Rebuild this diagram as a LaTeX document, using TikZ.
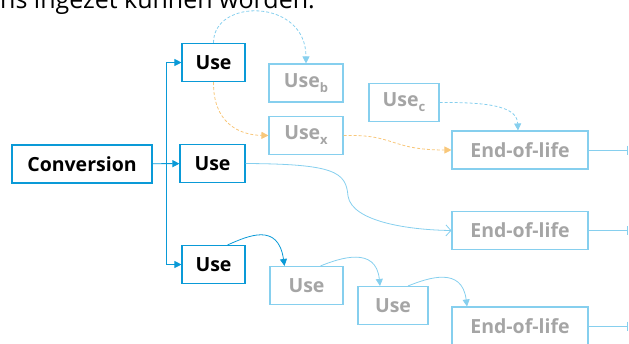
\documentclass[tikz,border=0pt]{standalone}
\usepackage{fontspec}
\setmainfont{Open Sans}
\usetikzlibrary{positioning,arrows.meta,calc}

\definecolor{lcblue}{HTML}{0A9AD7}
\definecolor{lcpale}{HTML}{86CFEE}
\definecolor{lcorange}{HTML}{F8C77A}
\definecolor{lcgrey}{HTML}{A5A5A5}

\newcommand{\lcsub}[1]{\raisebox{-5pt}{\fontsize{13}{14}\selectfont #1}}

\tikzset{
	every node/.style={font=\bfseries\fontsize{19.5}{22}\selectfont, inner sep=0pt},
	stagebox/.style={draw=lcblue, line width=1.1pt, text=black, minimum height=38pt},
	paledbox/.style={draw=lcpale, line width=1.1pt, text=lcgrey, minimum height=38pt},
	tip/.style={-{Triangle[length=7pt,width=7pt]}},
	busline/.style={draw=lcblue, line width=0.9pt},
	paleline/.style={draw=lcpale, line width=0.8pt},
	paledash/.style={paleline, dashed, dash pattern=on 3pt off 2pt},
	orangedash/.style={draw=lcorange, line width=0.8pt, dash pattern=on 3pt off 2pt},
	stub/.style={paleline, -{Bar[width=9pt,line width=1.2pt]}}
}

\begin{document}
\begin{tikzpicture}[x=1pt, y=-1pt]
	\useasboundingbox (0,0) rectangle (629,343);

	% cut-off line of the page above
	\node[anchor=base west, font=\fontsize{25}{28}\selectfont] (caption) at (0,8) {ns ingezet kunnen worden.};

	% main chain
	\node[stagebox, minimum width=140pt] (conv) at (82,164) {Conversion};
	\node[stagebox, minimum width=63pt] (use1) at (213.5,62.5) {Use};
	\node[stagebox, minimum width=65pt] (use2) at (212.5,163.5) {Use};
	\node[stagebox, minimum width=63pt] (use3) at (213.5,264.5) {Use};

	% pale stages
	\node[paledbox, minimum width=74pt] (useb) at (306,83) {Use\lcsub{b}};
	\node[paledbox, minimum width=74pt] (usex) at (306,135.5) {Use\lcsub{x}};
	\node[paledbox, minimum width=70pt] (usec) at (404,102.5) {Use\lcsub{c}};
	\node[paledbox, minimum width=73pt] (use4) at (306.5,285.5) {Use};
	\node[paledbox, minimum width=70pt] (use5) at (393,305.5) {Use};
	\node[paledbox, minimum width=136pt] (eol1) at (520,150) {End-of-life};
	\node[paledbox, minimum width=136pt] (eol2) at (520,230.5) {End-of-life};
	\node[paledbox, minimum width=136pt] (eol3) at (520,326) {End-of-life};

	% split after conversion
	\coordinate (split) at (166,164);
	\draw[busline, tip] (conv) -- (use2);
	\draw[busline, tip] (split) |- (use1);
	\draw[busline, tip] (split) |- (use3);

	% reuse loops
	\draw[paledash, tip] (use1.north) .. controls (213,-2) and (306,-2) .. (useb.north);
	\draw[orangedash, tip] (use1.south) .. controls (213,122) and (238,135) .. (usex.west);
	\draw[orangedash, tip] (usex.east) .. controls (395,134) and (390,150) .. (eol1.west);
	\draw[paledash, tip] (usec.east) .. controls (495,102) and (517,108) .. ($(eol1.north)+(-2,0)$);

	% long path to end-of-life
	\draw[paleline, -{Straight Barb[length=5pt,width=11pt]}] (use2.east) .. controls (335,164) and (346,172) .. (348,196)
		.. controls (352,222) and (410,230) .. (eol2.west);

	% cascade
	\draw[busline, line width=0.8pt, tip] ($(use3.north)+(14,0)$) .. controls (248,236) and (278,222) .. ($(use4.north)+(-22,0)$);
	\draw[paleline, tip] ($(use4.north)+(14,0)$) .. controls (340,258) and (376,246) .. ($(use5.north)+(-13,0)$);
	\draw[paleline, tip] ($(use5.north)+(15,0)$) .. controls (428,278) and (462,266) .. ($(eol3.north)+(-53,0)$);

	% outflow
	\coordinate (out1) at (628,150);
	\coordinate (out2) at (628,230.5);
	\coordinate (out3) at (628,326);
	\draw[stub] (eol1) -- (out1);
	\draw[stub] (eol2) -- (out2);
	\draw[stub] (eol3) -- (out3);
\end{tikzpicture}
\end{document}
